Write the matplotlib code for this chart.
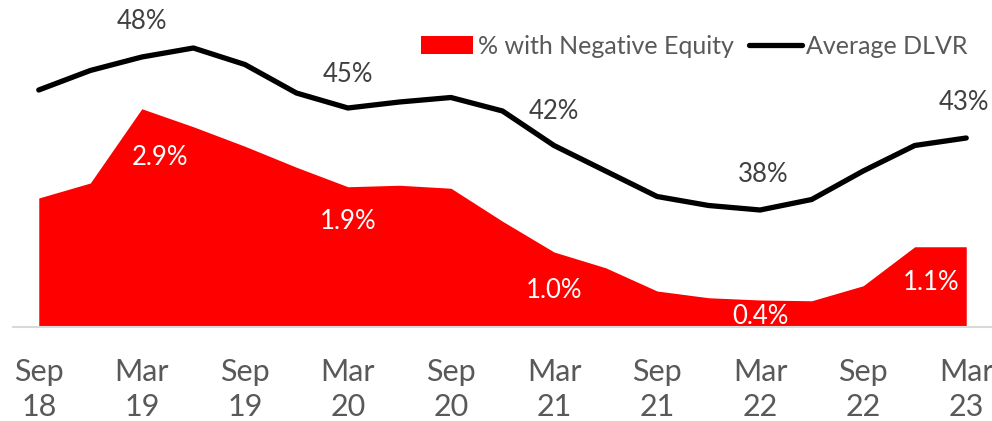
import matplotlib
matplotlib.use("Agg")
import matplotlib.pyplot as plt
import numpy as np

plt.rcParams['font.family'] = ['Lato', 'DejaVu Sans']

# Quarterly periods Sep 18 .. Mar 23
quarters = ["Sep 18", "Dec 18", "Mar 19", "Jun 19", "Sep 19", "Dec 19", "Mar 20",
            "Jun 20", "Sep 20", "Dec 20", "Mar 21", "Jun 21", "Sep 21", "Dec 21",
            "Mar 22", "Jun 22", "Sep 22", "Dec 22", "Mar 23"]
neg_equity = [1.72, 1.92, 2.91, 2.67, 2.41, 2.13, 1.87, 1.89, 1.85, 1.41,
              1.00, 0.79, 0.48, 0.39, 0.36, 0.35, 0.55, 1.07, 1.07]
avg_dlvr = [45.8, 47.1, 48.0, 48.6, 47.5, 45.6, 44.6, 45.0, 45.3, 44.4,
            42.1, 40.4, 38.7, 38.1, 37.8, 38.5, 40.4, 42.1, 42.6]
tick_labels = ["Sep\n18", "Mar\n19", "Sep\n19", "Mar\n20", "Sep\n20",
               "Mar\n21", "Sep\n21", "Mar\n22", "Sep\n22", "Mar\n23"]
neg_label_idx = [2, 6, 10, 14, 18]
dlvr_label_idx = [2, 6, 10, 14, 18]

# label offsets in pixels (styling)
neg_offsets = [(18, -49), (0, -35), (0, -39), (0, -16), (-35, -36)]
dlvr_offsets = [(0, 35), (0, 33), (0, 34), (3, 35), (-2, 35)]

x = np.arange(len(quarters))

fig = plt.figure(figsize=(9.92, 4.21), dpi=100)
ax = fig.add_axes([13/992, 94/421, 979/992, 300/421])
ax.set_xlim(-0.5, len(quarters) - 0.5)
ax.set_ylim(0, 4)
area = ax.fill_between(x, 0, neg_equity, color='#FF0000', linewidth=0,
                       label='% with Negative Equity')

ax2 = ax.twinx()
ax2.set_ylim(30, 50)
line, = ax2.plot(x, avg_dlvr, color='black', lw=3.8, solid_capstyle='round',
                 solid_joinstyle='round', label='Average DLVR')

for a in (ax, ax2):
    for s in a.spines.values():
        s.set_visible(False)
    a.set_yticks([])
ax.spines['bottom'].set_visible(True)
ax.spines['bottom'].set_color('#d9d9d9')
ax.spines['bottom'].set_linewidth(1.5)

ax.set_xticks(x[::2])
ax.set_xticklabels(tick_labels, fontsize=22, color='#595959', linespacing=1.33)
ax.tick_params(axis='x', length=0, pad=22)

for i, (dx, dy) in zip(neg_label_idx, neg_offsets):
    ax.annotate(f"{neg_equity[i]:.1f}%", xy=(i, neg_equity[i]), xytext=(dx, dy),
                textcoords='offset pixels', ha='center', va='center',
                fontsize=18.5, color='white')
for i, (dx, dy) in zip(dlvr_label_idx, dlvr_offsets):
    ax2.annotate(f"{avg_dlvr[i]:.0f}%", xy=(i, avg_dlvr[i]), xytext=(dx, dy),
                 textcoords='offset pixels', ha='center', va='center',
                 fontsize=18.5, color='#404040')

fig.legend([area, line], ['% with Negative Equity', 'Average DLVR'],
           loc='center right', bbox_to_anchor=(968/992, 1 - 46/421), ncol=2,
           frameon=False, fontsize=18, labelcolor='#595959',
           handlelength=2.1, handletextpad=0.2, columnspacing=0.6,
           borderaxespad=0, borderpad=0)

fig.savefig('out.png', dpi=100)
